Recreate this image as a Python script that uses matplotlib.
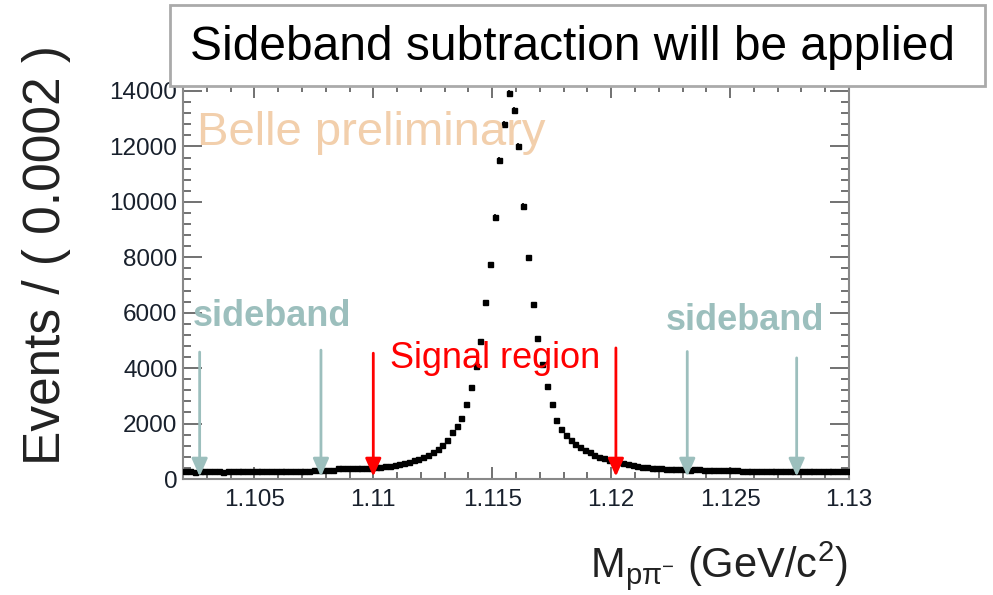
import numpy as np
import matplotlib
matplotlib.use('Agg')
import matplotlib.pyplot as plt
from matplotlib.patches import Rectangle
from matplotlib.ticker import MultipleLocator

plt.rcParams['font.family'] = ['Liberation Sans', 'DejaVu Sans']
plt.rcParams['mathtext.fontset'] = 'custom'
plt.rcParams['mathtext.rm'] = 'Liberation Sans'
plt.rcParams['mathtext.it'] = 'Liberation Sans:italic'

# histogram of M(p pi-), 140 bins of 0.0002 from 1.102 to 1.130
bin_lo = 1.102
bin_w = 0.0002
counts = [
    290, 280, 270, 275, 285, 300, 280, 275, 270, 280,
    285, 290, 280, 275, 280, 290, 295, 285, 280, 290,
    295, 300, 290, 285, 295, 300, 305, 310, 320, 330,
    335, 340, 380, 385, 390, 385, 395, 400, 400, 410,
    420, 440, 455, 480, 505, 535, 575, 625, 680, 735,
    800, 870, 960, 1080, 1240, 1420, 1700, 1900, 2190, 2700,
    3313, 4068, 4990, 6379, 7743, 9452, 11523, 12820, 13917, 13318,
    12000, 9847, 7994, 6318, 5086, 4164, 3363, 2692, 2140, 1820,
    1570, 1410, 1280, 1160, 1060, 960, 870, 810, 750, 690,
    640, 600, 570, 530, 500, 470, 445, 425, 410, 395,
    380, 370, 360, 355, 350, 345, 340, 345, 350, 340,
    335, 330, 335, 340, 330, 320, 310, 300, 295, 300,
    295, 290, 295, 300, 290, 285, 290, 295, 305, 300,
    290, 285, 280, 290, 295, 285, 280, 290, 295, 300,
]

# arrows: (x position, top of arrow in counts)
sideband_arrows = [(1.1027, 4580), (1.1078, 4650), (1.1232, 4600), (1.1278, 4370)]
signal_arrows = [(1.1100, 4540), (1.1202, 4730)]
arrow_tip = 90

teal = '#9cbfbd'
W, H = 993, 595


def px(x, y):
    return x / W, 1 - y / H


centers = bin_lo + bin_w * (np.arange(len(counts)) + 0.5)
counts = np.array(counts, dtype=float)

fig = plt.figure(figsize=(W / 100, H / 100), dpi=100)
ax = fig.add_axes([183 / W, 1 - 479 / H, (849 - 183) / W, (479 - 85) / H])

ax.errorbar(centers, counts, yerr=np.sqrt(counts), fmt='s', color='black',
            ms=3.6, elinewidth=1.2, capsize=0, zorder=3)

ax.set_xlim(1.102, 1.130)
ax.set_ylim(0, 14216)
ax.xaxis.set_minor_locator(MultipleLocator(0.001))
ax.yaxis.set_major_locator(MultipleLocator(2000))
ax.yaxis.set_minor_locator(MultipleLocator(400))
ax.set_xticks([1.105, 1.11, 1.115, 1.12, 1.125, 1.13])
ax.set_xticklabels(['1.105', '1.11', '1.115', '1.12', '1.125', '1.13'])

for s in ax.spines.values():
    s.set_color('#888888')
    s.set_linewidth(1.5)
ax.tick_params(which='both', direction='in', colors='#666666', width=1.3,
               labelcolor='#18202c', labelsize=17.5, right=True, top=True)
ax.tick_params(axis='x', which='major', length=9, pad=7)
ax.tick_params(axis='x', which='minor', length=5)
ax.tick_params(axis='y', which='major', length=14, pad=4)
ax.tick_params(axis='y', which='minor', length=6)

for x, top in sideband_arrows:
    ax.annotate('', xy=(x, arrow_tip), xytext=(x, top),
                arrowprops=dict(arrowstyle='-|>,head_length=0.45,head_width=0.2',
                                color=teal, lw=2, mutation_scale=24,
                                shrinkA=0, shrinkB=0), zorder=4)
for x, top in signal_arrows:
    ax.annotate('', xy=(x, arrow_tip), xytext=(x, top),
                arrowprops=dict(arrowstyle='-|>,head_length=0.45,head_width=0.2',
                                color='red', lw=2, mutation_scale=24,
                                shrinkA=0, shrinkB=0), zorder=4)

fig.text(*px(197, 133), 'Belle preliminary', color='#f2cfac', fontsize=34,
         ha='left', va='center', zorder=1)
fig.text(*px(272, 316), 'sideband', color=teal, fontsize=26, weight='bold',
         ha='center', va='center')
fig.text(*px(745, 320), 'sideband', color=teal, fontsize=26, weight='bold',
         ha='center', va='center')
fig.text(*px(495, 358), 'Signal region', color='red', fontsize=26,
         ha='center', va='center')

# title box on top of the frame
fig.patches.append(Rectangle(px(170, 86), 815 / W, 81 / H, transform=fig.transFigure,
                             facecolor='white', edgecolor='#aaaaaa', lw=2, zorder=5))
fig.text(*px(572, 48), 'Sideband subtraction will be applied', fontsize=34.5,
         ha='center', va='center', zorder=6)

fig.text(*px(47, 255), 'Events / ( 0.0002 )', fontsize=37, rotation=90,
         ha='center', va='center', color='#222222')
fig.text(*px(848, 565), r'M$_{\mathregular{p\pi^{-}}}$ (GeV/c$^{\mathregular{2}}$)',
         fontsize=30, ha='right', va='center', color='#222222')

fig.savefig('out.png', dpi=100)
